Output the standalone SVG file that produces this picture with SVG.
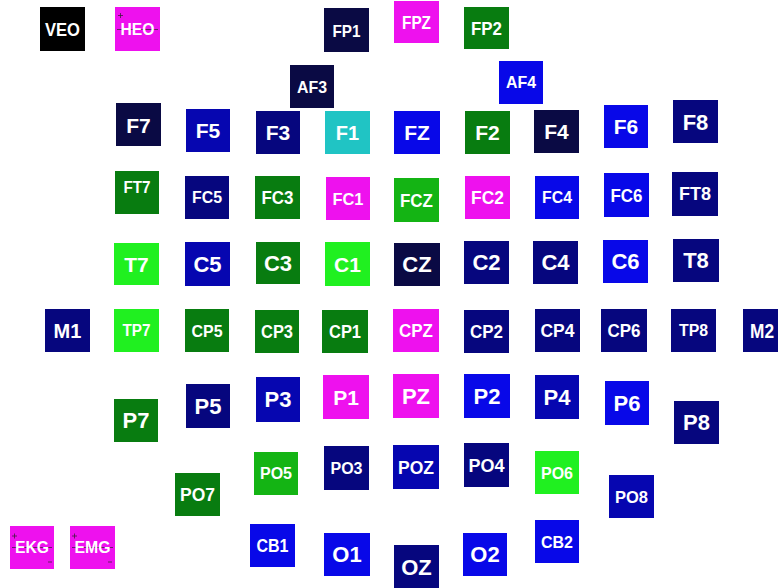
<svg xmlns="http://www.w3.org/2000/svg" width="778" height="588" viewBox="0 0 778 588">
<style>
rect{stroke:none}
.k{fill:#000000}.dn{fill:#0a0a44}.nv{fill:#06067e}.mb{fill:#0606b0}.bb{fill:#0808e8}
.mg{fill:#ee11ee}.gr{fill:#087c10}.mgr{fill:#14b414}.bg{fill:#20f020}.cy{fill:#20c4c4}
text{font-family:"Liberation Sans",Arial,sans-serif;font-weight:bold;fill:#ffffff;text-anchor:middle}
.mk{stroke:#402040;stroke-width:0.8;fill:none}
</style>
<rect width="778" height="588" fill="#ffffff"/>
<g id="VEO"><rect class="k" x="40" y="7" width="45" height="44"/><text x="62.5" y="35.5" font-size="18" textLength="35" lengthAdjust="spacingAndGlyphs">VEO</text></g>
<g id="HEO"><rect class="mg" x="115" y="7" width="45" height="44"/><path class="mk" d="M118 15.5h5M120.5 13v5M117 29.5h41"/><text x="137.5" y="35" font-size="17" textLength="34" lengthAdjust="spacingAndGlyphs">HEO</text></g>
<g id="FP1"><rect class="dn" x="324" y="8" width="45" height="44"/><text x="346.5" y="37" font-size="17" textLength="28" lengthAdjust="spacingAndGlyphs">FP1</text></g>
<g id="FPZ"><rect class="mg" x="394" y="1" width="45" height="42"/><text x="416.5" y="28.5" font-size="18" textLength="29" lengthAdjust="spacingAndGlyphs">FPZ</text></g>
<g id="FP2"><rect class="gr" x="464" y="7" width="45" height="42"/><text x="486.5" y="35" font-size="19" textLength="31" lengthAdjust="spacingAndGlyphs">FP2</text></g>
<g id="AF3"><rect class="dn" x="290" y="65" width="44" height="43"/><text x="312" y="92.7" font-size="17" textLength="30" lengthAdjust="spacingAndGlyphs">AF3</text></g>
<g id="AF4"><rect class="bb" x="499" y="61" width="44" height="43"/><text x="521" y="88" font-size="17" textLength="30" lengthAdjust="spacingAndGlyphs">AF4</text></g>
<g id="F7"><rect class="dn" x="116" y="103" width="45" height="43"/><text x="138.5" y="132.5" font-size="21">F7</text></g>
<g id="F5"><rect class="mb" x="186" y="109" width="44" height="43"/><text x="208" y="138" font-size="21">F5</text></g>
<g id="F3"><rect class="nv" x="256" y="111" width="44" height="43"/><text x="278" y="140" font-size="21">F3</text></g>
<g id="F1"><rect class="cy" x="325" y="111" width="45" height="43"/><text x="347.5" y="139.7" font-size="20">F1</text></g>
<g id="FZ"><rect class="bb" x="394" y="111" width="46" height="43"/><text x="417" y="140" font-size="21">FZ</text></g>
<g id="F2"><rect class="gr" x="465" y="111" width="45" height="43"/><text x="487.5" y="140" font-size="21">F2</text></g>
<g id="F4"><rect class="dn" x="534" y="110" width="45" height="43"/><text x="556.5" y="139" font-size="21">F4</text></g>
<g id="F6"><rect class="bb" x="604" y="105" width="44" height="43"/><text x="626" y="134" font-size="21">F6</text></g>
<g id="F8"><rect class="nv" x="673" y="100" width="45" height="43"/><text x="695.5" y="130" font-size="22">F8</text></g>
<g id="FT7"><rect class="gr" x="115" y="171" width="44" height="43"/><text x="137" y="192.5" font-size="16" textLength="27" lengthAdjust="spacingAndGlyphs">FT7</text></g>
<g id="FC5"><rect class="nv" x="185" y="176" width="44" height="43"/><text x="207" y="203.3" font-size="16" textLength="30" lengthAdjust="spacingAndGlyphs">FC5</text></g>
<g id="FC3"><rect class="gr" x="255" y="176" width="45" height="43"/><text x="277.5" y="204" font-size="18" textLength="32" lengthAdjust="spacingAndGlyphs">FC3</text></g>
<g id="FC1"><rect class="mg" x="326" y="177" width="44" height="43"/><text x="348" y="204.6" font-size="17" textLength="31" lengthAdjust="spacingAndGlyphs">FC1</text></g>
<g id="FCZ"><rect class="mgr" x="394" y="178" width="45" height="44"/><text x="416.5" y="206.5" font-size="18" textLength="33" lengthAdjust="spacingAndGlyphs">FCZ</text></g>
<g id="FC2"><rect class="mg" x="465" y="176" width="45" height="43"/><text x="487.5" y="204" font-size="18" textLength="33" lengthAdjust="spacingAndGlyphs">FC2</text></g>
<g id="FC4"><rect class="bb" x="535" y="176" width="44" height="43"/><text x="557" y="203.3" font-size="16" textLength="30" lengthAdjust="spacingAndGlyphs">FC4</text></g>
<g id="FC6"><rect class="bb" x="604" y="173" width="45" height="44"/><text x="626.5" y="201.6" font-size="18" textLength="32" lengthAdjust="spacingAndGlyphs">FC6</text></g>
<g id="FT8"><rect class="nv" x="672" y="172" width="46" height="44"/><text x="695" y="200.3" font-size="18" textLength="32" lengthAdjust="spacingAndGlyphs">FT8</text></g>
<g id="T7"><rect class="bg" x="114" y="243" width="45" height="42"/><text x="136.5" y="271.6" font-size="21">T7</text></g>
<g id="C5"><rect class="mb" x="185" y="242" width="45" height="44"/><text x="207.5" y="272" font-size="22">C5</text></g>
<g id="C3"><rect class="gr" x="256" y="242" width="44" height="42"/><text x="278" y="271" font-size="22">C3</text></g>
<g id="C1"><rect class="bg" x="325" y="242" width="45" height="44"/><text x="347.5" y="271.6" font-size="21">C1</text></g>
<g id="CZ"><rect class="dn" x="394" y="243" width="46" height="43"/><text x="417" y="272.4" font-size="22">CZ</text></g>
<g id="C2"><rect class="nv" x="464" y="241" width="45" height="43"/><text x="486.5" y="270.4" font-size="22">C2</text></g>
<g id="C4"><rect class="nv" x="533" y="241" width="45" height="43"/><text x="555.5" y="270.4" font-size="22">C4</text></g>
<g id="C6"><rect class="bb" x="603" y="240" width="45" height="43"/><text x="625.5" y="269.4" font-size="22">C6</text></g>
<g id="T8"><rect class="nv" x="673" y="239" width="46" height="43"/><text x="696" y="268.4" font-size="22">T8</text></g>
<g id="M1"><rect class="nv" x="45" y="309" width="45" height="43"/><text x="67.5" y="337.7" font-size="20">M1</text></g>
<g id="TP7"><rect class="bg" x="114" y="309" width="45" height="43"/><text x="136.5" y="336.3" font-size="16" textLength="28" lengthAdjust="spacingAndGlyphs">TP7</text></g>
<g id="CP5"><rect class="gr" x="185" y="309" width="44" height="43"/><text x="207" y="336.6" font-size="17" textLength="31" lengthAdjust="spacingAndGlyphs">CP5</text></g>
<g id="CP3"><rect class="gr" x="255" y="310" width="44" height="43"/><text x="277" y="338" font-size="18" textLength="32" lengthAdjust="spacingAndGlyphs">CP3</text></g>
<g id="CP1"><rect class="gr" x="322" y="310" width="46" height="43"/><text x="345" y="338" font-size="18" textLength="32" lengthAdjust="spacingAndGlyphs">CP1</text></g>
<g id="CPZ"><rect class="mg" x="393" y="309" width="46" height="43"/><text x="416" y="337" font-size="18" textLength="34" lengthAdjust="spacingAndGlyphs">CPZ</text></g>
<g id="CP2"><rect class="nv" x="464" y="310" width="45" height="43"/><text x="486.5" y="338" font-size="18" textLength="33" lengthAdjust="spacingAndGlyphs">CP2</text></g>
<g id="CP4"><rect class="nv" x="535" y="309" width="45" height="43"/><text x="557.5" y="337" font-size="18" textLength="34" lengthAdjust="spacingAndGlyphs">CP4</text></g>
<g id="CP6"><rect class="nv" x="601" y="309" width="46" height="43"/><text x="624" y="337" font-size="18" textLength="33" lengthAdjust="spacingAndGlyphs">CP6</text></g>
<g id="TP8"><rect class="nv" x="671" y="309" width="45" height="43"/><text x="693.5" y="336.3" font-size="16" textLength="29" lengthAdjust="spacingAndGlyphs">TP8</text></g>
<g id="M2"><rect class="nv" x="743" y="309" width="45" height="43"/><text x="762" y="338" font-size="21" textLength="24" lengthAdjust="spacingAndGlyphs">M2</text></g>
<g id="P7"><rect class="gr" x="114" y="399" width="44" height="43"/><text x="136" y="428.4" font-size="22">P7</text></g>
<g id="P5"><rect class="nv" x="186" y="384" width="44" height="44"/><text x="208" y="414" font-size="22">P5</text></g>
<g id="P3"><rect class="mb" x="256" y="377" width="44" height="45"/><text x="278" y="407.4" font-size="22">P3</text></g>
<g id="P1"><rect class="mg" x="323" y="375" width="46" height="44"/><text x="346" y="404.6" font-size="21">P1</text></g>
<g id="PZ"><rect class="mg" x="393" y="374" width="46" height="44"/><text x="416" y="404" font-size="22">PZ</text></g>
<g id="P2"><rect class="bb" x="464" y="374" width="46" height="44"/><text x="487" y="404" font-size="22">P2</text></g>
<g id="P4"><rect class="mb" x="535" y="375" width="44" height="44"/><text x="557" y="405" font-size="22">P4</text></g>
<g id="P6"><rect class="bb" x="605" y="381" width="44" height="44"/><text x="627" y="411" font-size="22">P6</text></g>
<g id="P8"><rect class="nv" x="674" y="401" width="45" height="43"/><text x="696.5" y="430.4" font-size="22">P8</text></g>
<g id="PO7"><rect class="gr" x="175" y="473" width="45" height="43"/><text x="197.5" y="501.3" font-size="19" textLength="35" lengthAdjust="spacingAndGlyphs">PO7</text></g>
<g id="PO5"><rect class="mgr" x="254" y="452" width="44" height="43"/><text x="276" y="479.3" font-size="16" textLength="32" lengthAdjust="spacingAndGlyphs">PO5</text></g>
<g id="PO3"><rect class="nv" x="324" y="446" width="45" height="44"/><text x="346.5" y="473.8" font-size="16" textLength="32" lengthAdjust="spacingAndGlyphs">PO3</text></g>
<g id="POZ"><rect class="mb" x="393" y="445" width="46" height="44"/><text x="416" y="473.8" font-size="19" textLength="36" lengthAdjust="spacingAndGlyphs">POZ</text></g>
<g id="PO4"><rect class="nv" x="464" y="443" width="45" height="44"/><text x="486.5" y="471.8" font-size="19" textLength="36" lengthAdjust="spacingAndGlyphs">PO4</text></g>
<g id="PO6"><rect class="bg" x="535" y="451" width="44" height="43"/><text x="557" y="478.6" font-size="17" textLength="32" lengthAdjust="spacingAndGlyphs">PO6</text></g>
<g id="PO8"><rect class="mb" x="609" y="475" width="45" height="43"/><text x="631.5" y="502.6" font-size="17" textLength="33" lengthAdjust="spacingAndGlyphs">PO8</text></g>
<g id="EKG"><rect class="mg" x="10" y="526" width="44" height="43"/><path class="mk" d="M12 536h5M14.5 533.5v5M12 547.5h40M48 562h4"/><text x="32" y="553.3" font-size="16" textLength="34" lengthAdjust="spacingAndGlyphs">EKG</text></g>
<g id="EMG"><rect class="mg" x="70" y="526" width="45" height="43"/><path class="mk" d="M72 536h5M74.5 533.5v5M72 547.5h41M108 562h4"/><text x="92.5" y="553.3" font-size="16" textLength="36" lengthAdjust="spacingAndGlyphs">EMG</text></g>
<g id="CB1"><rect class="bb" x="250" y="524" width="45" height="43"/><text x="272.5" y="552" font-size="18" textLength="32" lengthAdjust="spacingAndGlyphs">CB1</text></g>
<g id="CB2"><rect class="bb" x="535" y="520" width="44" height="43"/><text x="557" y="547.6" font-size="17" textLength="32" lengthAdjust="spacingAndGlyphs">CB2</text></g>
<g id="O1"><rect class="bb" x="324" y="533" width="46" height="43"/><text x="347" y="562.4" font-size="22">O1</text></g>
<g id="OZ"><rect class="nv" x="394" y="545" width="45" height="44"/><text x="416.5" y="575" font-size="22">OZ</text></g>
<g id="O2"><rect class="bb" x="463" y="533" width="44" height="43"/><text x="485" y="562.4" font-size="22">O2</text></g>
</svg>
